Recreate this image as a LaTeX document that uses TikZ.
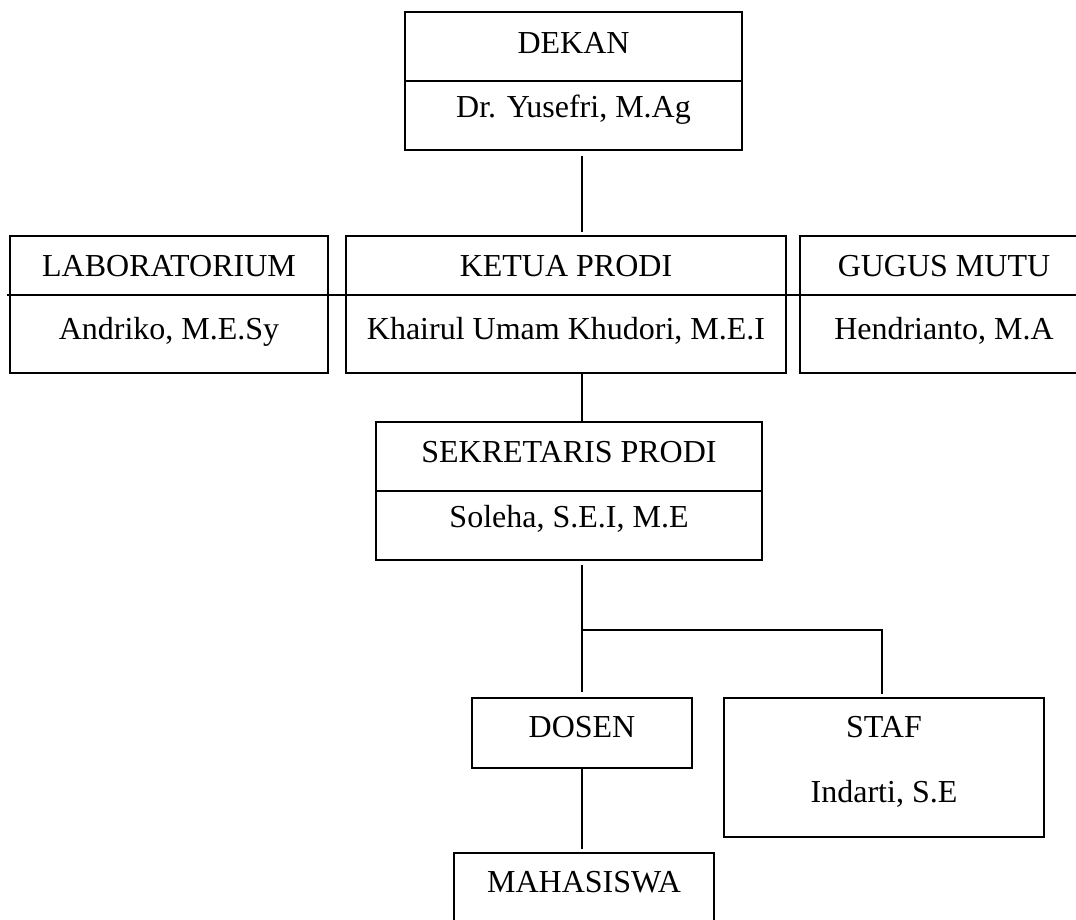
\documentclass[tikz,border=0pt]{standalone}
\usepackage{fontspec}
\setmainfont{Liberation Serif}
\usepackage{tikz}

\begin{document}
\begin{tikzpicture}[x=1pt,y=-1pt,line width=1.8pt,
	kotak/.style args={#1/#2}{draw,rectangle,inner sep=0pt,minimum width=#1,minimum height=#2},
	teks/.style={anchor=base,inner sep=0pt,font=\fontsize{32}{38}\selectfont}]
	\useasboundingbox (0,0) rectangle (1076,919);
	% Dekan
	\node[kotak=337pt/138pt] (dekan) at (573.5,81) {};
	\node[teks] (dekan-j) at (573.5,53) {DEKAN};
	\node[teks] (dekan-n) at (573.5,117) {Dr. Yusefri, M.Ag};
	\draw ([yshift=-70pt]dekan.north west) -- ([yshift=-70pt]dekan.north east);
	% Baris kedua
	\foreach \nama/\x/\w/\judul/\isi in {lab/169/318pt/LABORATORIUM/{Andriko, M.E.Sy},
		ketua/566/440pt/KETUA PRODI/{Khairul Umam Khudori, M.E.I},
		gugus/944/288pt/GUGUS MUTU/{Hendrianto, M.A}}
	{
		\node[kotak=\w/137pt] (\nama) at (\x,304.5) {};
		\node[teks] (\nama-j) at (\x,276) {\judul};
		\node[teks] (\nama-n) at (\x,339) {\isi};
	}
	\draw ([xshift=-2pt,yshift=-60pt]lab.north west) -- ([yshift=-60pt]gugus.north east);
	% Sekretaris
	\node[kotak=386pt/138pt] (sek) at (569,491) {};
	\node[teks] (sek-j) at (569,462) {SEKRETARIS PRODI};
	\node[teks] (sek-n) at (569,527) {Soleha, S.E.I, M.E};
	\draw ([yshift=-70pt]sek.north west) -- ([yshift=-70pt]sek.north east);
	% Dosen, staf, mahasiswa
	\node[kotak=220pt/70pt] (dosen) at (582,733) {};
	\node[teks] (dosen-j) at (582,737) {DOSEN};
	\node[kotak=320pt/139pt] (staf) at (884,767.5) {};
	\node[teks] (staf-j) at (884,737) {STAF};
	\node[teks] (staf-n) at (884,802) {Indarti, S.E};
	\node[kotak=260pt/80pt] (maha) at (584,893) {};
	\node[teks] (maha-j) at (584,892) {MAHASISWA};
	% Garis
	\coordinate (tiang) at (582,0);
	\coordinate (cabang) at (582,630);
	\draw[shorten <=5pt,shorten >=3pt] (tiang |- dekan.south) -- (tiang |- ketua.north);
	\draw (tiang |- ketua.south) -- (tiang |- sek.north);
	\draw[shorten <=4pt,shorten >=5pt] (tiang |- sek.south) -- (dosen.north);
	\draw[shorten >=3pt] (cabang) -| ([xshift=-2pt]staf.north);
	\draw[shorten >=3pt] (dosen.south) -- (dosen.south |- maha.north);
\end{tikzpicture}
\end{document}
